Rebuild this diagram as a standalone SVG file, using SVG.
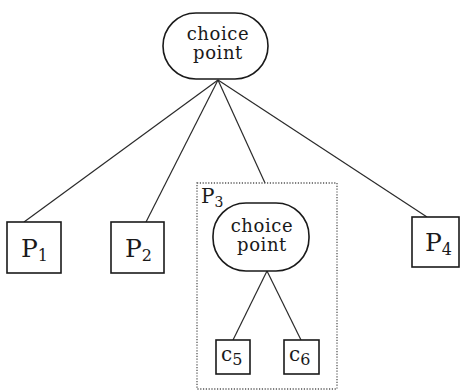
<svg xmlns="http://www.w3.org/2000/svg" width="462" height="390" viewBox="0 0 462 390">
  <style>
    .bg { fill: #ffffff; }
    .node { fill: #ffffff; stroke: #1a1a1a; stroke-width: 1.6; }
    .edge { fill: none; stroke: #2a2a2a; stroke-width: 1.2; }
    .frame { fill: none; stroke: #555555; stroke-width: 1.3; stroke-dasharray: 1.2 1.6; }
    text { font-family: "DejaVu Serif", "Liberation Serif", serif; fill: #1a1a1a; }
    .cp { font-size: 18px; letter-spacing: 0.6px; text-anchor: middle; }
    .lbl { font-size: 25px; }
    .sub { font-size: 16px; }
    .small { font-size: 20px; }
  </style>
  <rect class="bg" x="0" y="0" width="462" height="390"/>

  <g id="connectors">
    <line class="edge" x1="218" y1="80" x2="24" y2="222"/>
    <line class="edge" x1="218" y1="80" x2="146" y2="222"/>
    <line class="edge" x1="218" y1="80" x2="265" y2="183"/>
    <line class="edge" x1="218" y1="80" x2="427" y2="217"/>
    <line class="edge" x1="267" y1="271" x2="233" y2="340"/>
    <line class="edge" x1="267" y1="271" x2="301" y2="340"/>
  </g>

  <g id="choice-point-top">
    <rect class="node" x="163" y="13" width="105" height="66" rx="33" ry="33"/>
    <text class="cp" x="218" y="40">choice</text>
    <text class="cp" x="218" y="59">point</text>
  </g>

  <g id="P1">
    <rect class="node" x="7" y="222" width="54" height="51"/>
    <text class="lbl" x="21" y="257">P<tspan class="sub" dy="4">1</tspan></text>
  </g>

  <g id="P2">
    <rect class="node" x="111" y="222" width="53" height="51"/>
    <text class="lbl" x="125" y="257">P<tspan class="sub" dy="4">2</tspan></text>
  </g>

  <g id="P3">
    <rect class="frame" x="197" y="183" width="140" height="206"/>
    <text class="small" x="201" y="203">P<tspan class="sub" dy="4" style="font-size:14px">3</tspan></text>
    <g id="choice-point-inner">
      <rect class="node" x="213" y="203" width="96" height="68" rx="33" ry="33"/>
      <text class="cp" x="262" y="232">choice</text>
      <text class="cp" x="262" y="251">point</text>
    </g>
    <g id="c5">
      <rect class="node" x="216" y="340" width="34" height="34"/>
      <text class="small" x="221" y="361">c<tspan class="sub" dy="4">5</tspan></text>
    </g>
    <g id="c6">
      <rect class="node" x="284" y="340" width="35" height="34"/>
      <text class="small" x="289" y="361">c<tspan class="sub" dy="4">6</tspan></text>
    </g>
  </g>

  <g id="P4">
    <rect class="node" x="412" y="217" width="47" height="50"/>
    <text class="lbl" x="425" y="251">P<tspan class="sub" dy="4">4</tspan></text>
  </g>
</svg>
